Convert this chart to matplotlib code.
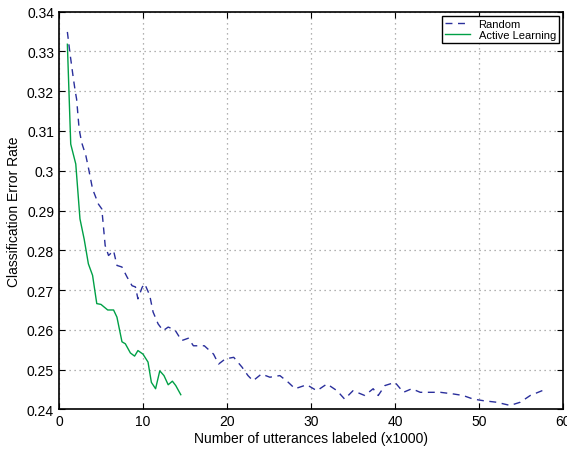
import numpy as np
import matplotlib
matplotlib.use('Agg')
import matplotlib.pyplot as plt

plt.rcParams['font.family'] = ['Liberation Sans', 'DejaVu Sans']

# random sampling curve
rand_x = [1.0, 1.3, 1.7, 1.9, 2.1, 2.4, 2.7, 3.2, 3.5, 4.0, 4.7, 5.1, 5.5, 5.9,
          6.5, 6.9, 7.5, 8.1, 8.7, 9.1, 9.4, 9.9, 10.2, 10.8, 11.2, 11.8, 12.4,
          13.0, 13.8, 14.6, 15.4, 16.0, 17.3, 18.4, 19.0, 19.8, 20.8, 21.8,
          22.5, 23.1, 24.1, 25.1, 26.3, 27.3, 28.1, 29.5, 30.7, 31.9, 33.1,
          34.0, 35.0, 36.4, 37.4, 38.0, 38.8, 40.0, 41.0, 42.0, 43.0, 44.2,
          45.4, 46.9, 48.1, 49.3, 50.5, 52.1, 53.7, 54.9, 56.1, 57.5, 57.8]
rand_y = [0.3349, 0.3297, 0.3234, 0.3205, 0.3180, 0.3105, 0.3071, 0.3038,
          0.3008, 0.2954, 0.2916, 0.2904, 0.2812, 0.2787, 0.2799, 0.2762,
          0.2758, 0.2733, 0.2711, 0.2708, 0.2678, 0.2707, 0.2716, 0.2687,
          0.2645, 0.2615, 0.2598, 0.2607, 0.2600, 0.2573, 0.2579, 0.2560,
          0.2560, 0.2539, 0.2514, 0.2527, 0.2531, 0.2506, 0.2485, 0.2472,
          0.2489, 0.2481, 0.2485, 0.2468, 0.2452, 0.2462, 0.2447, 0.2464,
          0.2447, 0.2426, 0.2447, 0.2435, 0.2452, 0.2435, 0.2460, 0.2468,
          0.2443, 0.2452, 0.2443, 0.2443, 0.2443, 0.2439, 0.2435, 0.2426,
          0.2422, 0.2418, 0.2410, 0.2418, 0.2435, 0.2447, 0.2449]

# active learning curve
act_x = [1.0, 1.4, 2.0, 2.5, 3.0, 3.5, 4.0, 4.5, 5.0, 5.8, 6.5, 6.9, 7.5,
         7.9, 8.5, 9.0, 9.4, 10.0, 10.6, 11.0, 11.5, 12.0, 12.5, 13.0, 13.5,
         13.9, 14.5]
act_y = [0.3318, 0.3067, 0.3017, 0.2879, 0.2828, 0.2766, 0.2737, 0.2666,
         0.2664, 0.2650, 0.2650, 0.2632, 0.2570, 0.2565, 0.2542, 0.2534,
         0.2548, 0.2539, 0.2519, 0.2468, 0.2452, 0.2497, 0.2485, 0.2462,
         0.2471, 0.2460, 0.2437]

fig = plt.figure(figsize=(5.67, 4.52), dpi=100)
ax = fig.add_axes([0.104, 0.092, 0.889, 0.880])
ax.plot(rand_x, rand_y, '--', color='#2a2f9c', lw=1.0, dashes=(5, 4), label='Random')
ax.plot(act_x, act_y, '-', color='#00a046', lw=1.0, label='Active Learning')

ax.set_xlim(0, 60)
ax.set_ylim(0.24, 0.34)
ax.set_xticks(np.arange(0, 61, 10))
ax.set_yticks(np.arange(0.24, 0.3401, 0.01))
ax.set_yticklabels(['0.24', '0.25', '0.26', '0.27', '0.28', '0.29', '0.3',
                    '0.31', '0.32', '0.33', '0.34'])
ax.tick_params(direction='in', top=True, right=True, labelsize=10, length=4)
ax.grid(True, linestyle=(0, (1, 3)), color='#999999', lw=0.9)
for s in ax.spines.values():
    s.set_linewidth(1.2)
ax.set_xlabel('Number of utterances labeled (x1000)', fontsize=10, labelpad=2)
ax.set_ylabel('Classification Error Rate', fontsize=10, labelpad=4)

leg = ax.legend(loc='upper right', fontsize=8, fancybox=False, framealpha=1,
                edgecolor='black', borderpad=0.25, labelspacing=0.1,
                handlelength=2.2, borderaxespad=0.4)
leg.get_frame().set_linewidth(1.0)

fig.savefig('out.png', dpi=100)
